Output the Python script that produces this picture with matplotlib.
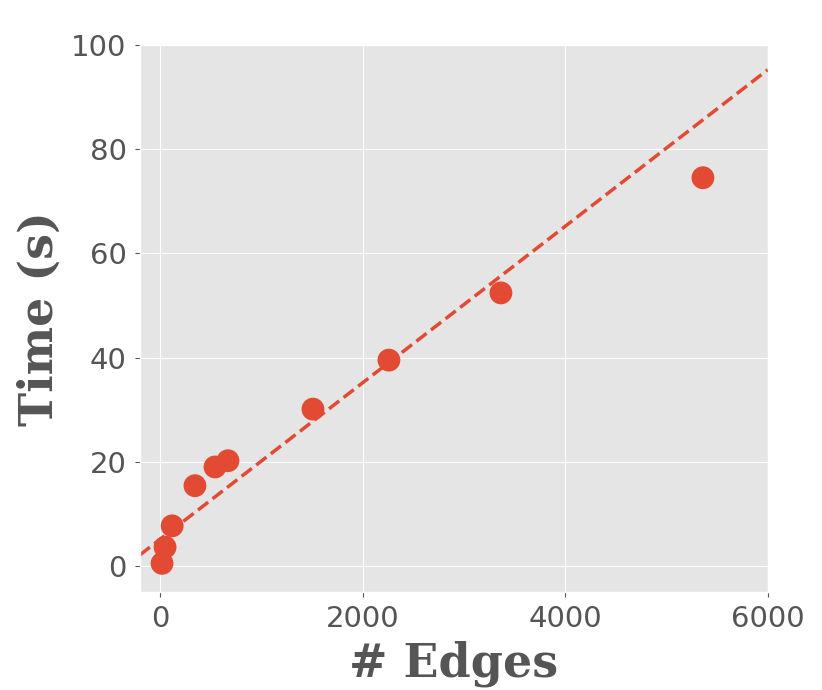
import numpy as np
import matplotlib
matplotlib.use('Agg')
import matplotlib.pyplot as plt

# data
edges = [20, 50, 120, 345, 543, 671, 1510, 2260, 3366, 5360]
times = [0.5, 3.6, 7.7, 15.4, 19.0, 20.2, 30.1, 39.5, 52.4, 74.5]

# linear trend line
slope = 0.01502
intercept = 5.1

plt.style.use('ggplot')
fig = plt.figure(figsize=(8.22, 6.9), dpi=100)
ax = fig.add_axes([0.170, 0.142, 0.764, 0.793])

color = '#E24A33'
ax.scatter(edges, times, s=270, color=color, zorder=3, edgecolors='none')

xs = np.array([-200, 6000])
ax.plot(xs, slope * xs + intercept, '--', color=color, linewidth=2.5, zorder=2)

ax.set_xlim(-200, 6000)
ax.set_ylim(-5, 100)
ax.set_xticks([0, 2000, 4000, 6000])
ax.set_yticks([0, 20, 40, 60, 80, 100])
ax.tick_params(labelsize=21, colors='#555555', labelcolor='#555555', pad=6)

ax.set_xlabel('# Edges', fontsize=33, fontweight='bold', family='DejaVu Serif',
              color='#555555', labelpad=5)
ax.set_ylabel('Time (s)', fontsize=33, fontweight='bold', family='DejaVu Serif',
              color='#555555', labelpad=6)

fig.savefig('out.png', dpi=100)
